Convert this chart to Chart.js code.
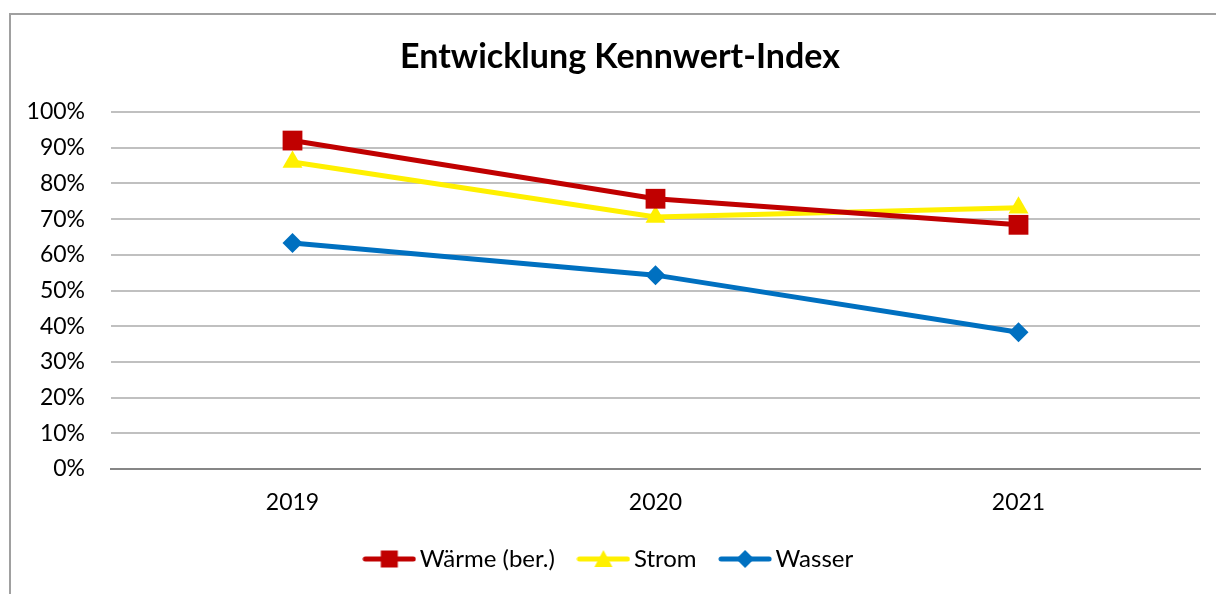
<!DOCTYPE html>
<html lang="de">
<head>
<meta charset="UTF-8">
<title>Entwicklung Kennwert-Index</title>
<script src="https://cdn.jsdelivr.net/npm/chart.js"></script>
<style>
    html, body {
        margin: 0;
        padding: 0;
        background: #ffffff;
        overflow: hidden;
    }
    .frame {
        position: absolute;
        left: 9px;
        top: 13px;
        width: 1240px;
        height: 620px;
        border: 2px solid #a0a0a0;
        box-sizing: border-box;
    }
    #wrap {
        position: absolute;
        left: 0;
        top: 0;
        width: 1216px;
        height: 594px;
    }
</style>
</head>
<body>
<div class="frame"></div>
<div id="wrap"><canvas id="chart"></canvas></div>

<script>
    // Data
    const years = ['2019', '2020', '2021'];
    const waerme = [0.92, 0.757, 0.684];
    const strom = [0.86, 0.706, 0.732];
    const wasser = [0.633, 0.543, 0.383];
    const yTicks = [0, 0.1, 0.2, 0.3, 0.4, 0.5, 0.6, 0.7, 0.8, 0.9, 1.0];

    const FONT = 'Lato, "Noto Sans", sans-serif';

    // small legend symbol: line with marker in the middle
    function legendSymbol(color, shape) {
        const c = document.createElement('canvas');
        c.width = 54;
        c.height = 20;
        const g = c.getContext('2d');
        g.strokeStyle = color;
        g.fillStyle = color;
        g.lineWidth = 5;
        g.lineCap = 'round';
        g.beginPath();
        g.moveTo(3, 10);
        g.lineTo(51, 10);
        g.stroke();
        g.beginPath();
        if (shape === 'rect') {
            g.rect(18.5, 1.5, 17, 17);
        } else if (shape === 'triangle') {
            g.moveTo(27, 1);
            g.lineTo(36, 18);
            g.lineTo(18, 18);
            g.closePath();
        } else {
            g.moveTo(27, 1);
            g.lineTo(36, 10);
            g.lineTo(27, 19);
            g.lineTo(18, 10);
            g.closePath();
        }
        g.fill();
        return c;
    }

    const symbols = [
        legendSymbol('#c00000', 'rect'),
        legendSymbol('#fff000', 'triangle'),
        legendSymbol('#0070c0', 'diamond')
    ];

    // the original chart is wider than the crop, so title and legend sit a bit right of centre
    const shiftBlocks = {
        id: 'shiftBlocks',
        afterLayout(chart) {
            if (chart.titleBlock) {
                chart.titleBlock.left += 40;
            }
            if (chart.legend) {
                chart.legend.left += 12;
                chart.legend.right += 12;
                chart.legend.legendHitBoxes.forEach(b => { b.left += 12; });
            }
        }
    };

    const ctx = document.getElementById('chart').getContext('2d');
    new Chart(ctx, {
        type: 'line',
        data: {
            labels: years,
            datasets: [
                {
                    label: 'Wärme (ber.)',
                    data: waerme,
                    borderColor: '#c00000',
                    backgroundColor: '#c00000',
                    borderWidth: 5,
                    pointStyle: 'rect',
                    pointRadius: 14,
                    pointHoverRadius: 14,
                    pointBorderWidth: 0,
                    tension: 0
                },
                {
                    label: 'Strom',
                    data: strom,
                    borderColor: '#fff000',
                    backgroundColor: '#fff000',
                    borderWidth: 5,
                    pointStyle: 'triangle',
                    pointRadius: 11.5,
                    pointHoverRadius: 11.5,
                    pointBorderWidth: 0,
                    tension: 0
                },
                {
                    label: 'Wasser',
                    data: wasser,
                    borderColor: '#0070c0',
                    backgroundColor: '#0070c0',
                    borderWidth: 5,
                    pointStyle: 'rectRot',
                    pointRadius: 10,
                    pointHoverRadius: 10,
                    pointBorderWidth: 0,
                    tension: 0
                }
            ]
        },
        plugins: [shiftBlocks],
        options: {
            responsive: true,
            maintainAspectRatio: false,
            animation: false,
            layout: {
                padding: { left: 0, right: 16, top: 0, bottom: 13 }
            },
            plugins: {
                title: {
                    display: true,
                    text: 'Entwicklung Kennwert-Index',
                    color: '#000000',
                    font: { family: FONT, size: 34, weight: 'bold', lineHeight: 1.2 },
                    padding: { top: 36.6, bottom: 34.6 }
                },
                legend: {
                    position: 'bottom',
                    labels: {
                        color: '#000000',
                        font: { family: FONT, size: 24 },
                        usePointStyle: true,
                        pointStyleWidth: 37,
                        padding: 30,
                        generateLabels: function(chart) {
                            const items = Chart.defaults.plugins.legend.labels.generateLabels(chart);
                            items.forEach((item, i) => {
                                item.pointStyle = symbols[i];
                            });
                            return items;
                        }
                    }
                },
                tooltip: { enabled: false }
            },
            scales: {
                x: {
                    offset: true,
                    grid: { display: false, drawTicks: false },
                    border: { display: true, color: '#868686', width: 2 },
                    ticks: {
                        color: '#000000',
                        font: { family: FONT, size: 23 },
                        padding: 20
                    },
                    afterFit: function(scale) {
                        scale.height = 48;
                    }
                },
                y: {
                    min: 0,
                    max: 1,
                    afterBuildTicks: function(scale) {
                        scale.ticks = yTicks.map(v => ({ value: v }));
                    },
                    grid: {
                        drawTicks: false,
                        color: ctx => ctx.tick && ctx.tick.value === 0 ? '#868686' : '#c0c0c0',
                        lineWidth: 2
                    },
                    border: { display: false },
                    ticks: {
                        color: '#000000',
                        font: { family: FONT, size: 23 },
                        padding: 26,
                        callback: v => Math.round(v * 100) + '%'
                    },
                    afterFit: function(scale) {
                        scale.width = 111;
                    }
                }
            }
        }
    });
</script>
</body>
</html>
